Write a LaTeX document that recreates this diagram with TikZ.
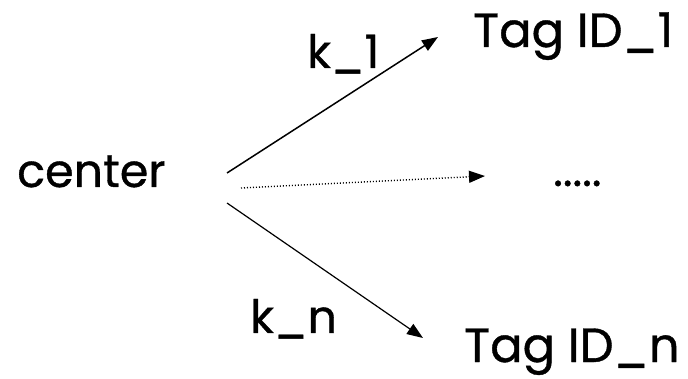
\documentclass[tikz,border=0pt]{standalone}
\usepackage{fontspec}
\newfontfamily\lblfont{Poppins}[FakeBold=0.8]
\usetikzlibrary{arrows.meta}
\begin{document}
\begin{tikzpicture}[x=1pt,y=-1pt,
  lbl/.style={inner sep=0pt, anchor=base west, font=\lblfont\fontsize{46}{48}\selectfont},
  big/.style={font=\lblfont\fontsize{48}{50}\selectfont},
  arr/.style={-{Triangle[length=16pt,width=12pt]}, line width=1.5pt},
  dotarr/.style={-{Triangle[length=16pt,width=12pt]}, line width=1.4pt, dash pattern=on 1pt off 2pt}]
\useasboundingbox (0,0) rectangle (688,379);
\node[lbl] (center) at (17,187) {center};
\node[lbl, big] (t1) at (473,47) {Tag ID\_1};
\node[lbl, big] (tn) at (464,362) {Tag ID\_n};
\node[lbl] (k1) at (307,68) {k\_1};
\node[lbl] (kn) at (250,333) {k\_n};
\node[lbl] (dots) at (553,186) {.....};
\coordinate (a1s) at (227,173);
\coordinate (a1e) at (438,37);
\coordinate (a2s) at (241,188);
\coordinate (a2e) at (485,176);
\coordinate (a3s) at (227,203);
\coordinate (a3e) at (423,338);
\draw[arr] (a1s) -- (a1e);
\draw[dotarr] (a2s) -- (a2e);
\draw[arr, line width=1.2pt] (a3s) -- (a3e);
\end{tikzpicture}
\end{document}
